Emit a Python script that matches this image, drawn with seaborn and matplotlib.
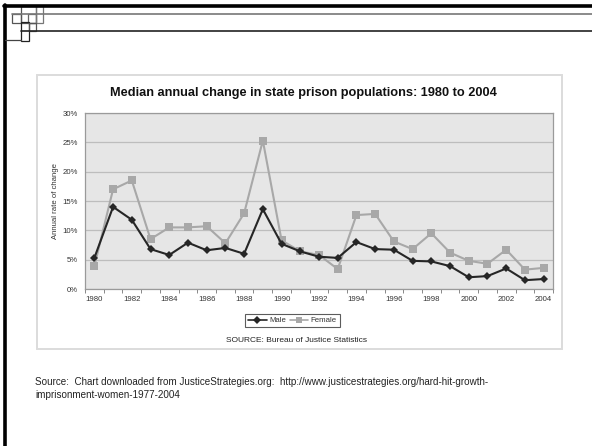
import matplotlib
matplotlib.use("Agg")
import matplotlib.pyplot as plt
from matplotlib.patches import Rectangle
from matplotlib.lines import Line2D
from matplotlib.ticker import FixedLocator, FuncFormatter
import seaborn as sns
import pandas as pd

years = list(range(1980, 2005))
male = [5.3, 14.0, 11.8, 6.8, 5.8, 7.9, 6.6, 7.0, 6.0, 13.6, 7.7, 6.4, 5.5,
        5.3, 8.0, 6.8, 6.7, 4.8, 4.7, 3.9, 2.0, 2.2, 3.5, 1.5, 1.7]
female = [3.9, 17.0, 18.5, 8.5, 10.5, 10.5, 10.7, 7.8, 12.9, 25.3, 8.3, 6.4, 5.8,
          3.4, 12.6, 12.8, 8.1, 6.8, 9.5, 6.2, 4.8, 4.3, 6.7, 3.3, 3.6]
series_names = ["Male", "Female"]
y_ticks = [0, 5, 10, 15, 20, 25, 30]
x_tick_years = list(range(1980, 2005, 2))

sns.set_theme(style="white")
plt.rcParams["font.family"] = ["Liberation Sans", "DejaVu Sans"]

W, H = 592, 446
fig = plt.figure(figsize=(W / 100, H / 100), dpi=100)

def fx(x):
    return x / W

def fy(y):
    return 1 - y / H

# slide frame and corner ornament
frame = [
    ((4, 5.5), (592, 5.5), 2.6, "#000000"),
    ((5, 5), (5, 446), 2.6, "#000000"),
    ((11.5, 13.5), (592, 13.5), 1.2, "#777777"),
    ((20.5, 31), (592, 31), 1.2, "#222222"),
    ((5, 39.5), (21, 39.5), 0.9, "#444444"),
]
for (x0, y0), (x1, y1), lw, c in frame:
    fig.add_artist(Line2D([fx(x0), fx(x1)], [fy(y0), fy(y1)], lw=lw, color=c))
for x0, y0, x1, y1, c in [(11.5, 13.5, 20.5, 22.5, "#555555"),
                          (20.5, 5.5, 35.5, 22.5, "#555555"),
                          (27.5, 13.5, 35.5, 22.5, "#666666"),
                          (35.5, 5.5, 43, 22.5, "#777777"),
                          (20.5, 22.5, 28.5, 40.5, "#222222"),
                          (28.5, 22.5, 35.5, 31, "#555555")]:
    fig.add_artist(Rectangle((fx(x0), fy(y1)), fx(x1 - x0), (y1 - y0) / H,
                             fill=False, lw=0.9, edgecolor=c))

# chart panel border
fig.add_artist(Rectangle((fx(37), fy(349)), fx(561.5 - 37), (349 - 75) / H,
                         fill=False, lw=1.4, edgecolor="#dcdcdc"))

ax = fig.add_axes([fx(85), fy(289), fx(553 - 85), (289 - 113) / H])
ax.set_facecolor("#e6e6e6")

df = pd.DataFrame({
    "year": years * 2,
    "value": male + female,
    "sex": [series_names[0]] * len(years) + [series_names[1]] * len(years),
})
palette = {"Male": "#262626", "Female": "#a8a8a8"}
markers = {"Male": "D", "Female": "s"}
for name in series_names[::-1]:
    sub = df[df["sex"] == name]
    sns.lineplot(data=sub, x="year", y="value", ax=ax, color=palette[name],
                 marker=markers[name], markersize=4.4 if name == "Male" else 5.6,
                 markeredgewidth=0, lw=1.5, legend=False)

ax.set_xlim(1979.5, 2004.5)
ax.set_ylim(0, 30)
ax.set_yticks(y_ticks)
ax.yaxis.set_major_formatter(FuncFormatter(lambda v, p: f"{v:.0f}%"))
ax.yaxis.grid(True, color="#bdbdbd", lw=0.9)
ax.set_axisbelow(True)
ax.set_xticks(x_tick_years)
ax.set_xticklabels([str(y) for y in x_tick_years])
ax.xaxis.set_minor_locator(FixedLocator([y - 0.5 for y in years] + [2004.5]))
ax.tick_params(axis="x", which="major", length=0, pad=5, labelsize=5.6, labelcolor="#333333")
ax.tick_params(axis="x", which="minor", length=3, width=0.7, color="#888888", bottom=True)
ax.tick_params(axis="y", which="major", length=0, pad=5, labelsize=5.6, labelcolor="#333333")
for s in ax.spines.values():
    s.set_color("#9a9a9a")
    s.set_linewidth(0.9)
ax.set_xlabel("")
ax.set_ylabel("Annual rate of change", fontsize=5.6, color="#333333", labelpad=3)

fig.text(fx(303.5), fy(93), "Median annual change in state prison populations: 1980 to 2004",
         ha="center", va="center", fontsize=9.2, fontweight="bold", color="#111111")

handles = [Line2D([], [], color=palette[n], marker=markers[n],
                  markersize=3.6 if n == "Male" else 4.2, markeredgewidth=0, lw=1.2)
           for n in series_names]
leg = fig.legend(handles, series_names, loc="center", bbox_to_anchor=(fx(292.5), fy(320.5)),
                 ncol=2, fontsize=5.6, frameon=True, fancybox=False, handlelength=2.4,
                 handletextpad=0.3, columnspacing=0.5, borderpad=0.35)
leg.get_frame().set_edgecolor("#333333")
leg.get_frame().set_linewidth(0.8)
for t in leg.get_texts():
    t.set_color("#333333")

fig.text(fx(296.5), fy(340), "SOURCE: Bureau of Justice Statistics", ha="center", va="center",
         fontsize=6, color="#222222")

fig.text(fx(35), fy(382), "Source:  Chart downloaded from JusticeStrategies.org:  "
         "http://www.justicestrategies.org/hard-hit-growth-", ha="left", va="center",
         fontsize=7.1, color="#222222")
fig.text(fx(35), fy(395), "imprisonment-women-1977-2004", ha="left", va="center",
         fontsize=7.1, color="#222222")

fig.savefig("out.png", dpi=100)
